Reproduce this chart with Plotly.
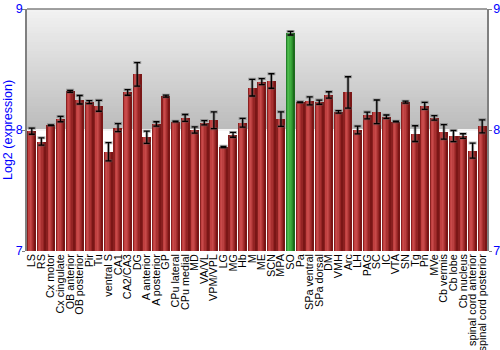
import plotly.graph_objects as go

categories = ["LS", "RS", "Cx motor", "Cx cingulate", "OB anterior", "OB posterior", "Pir", "Tu",
              "ventral S", "CA1", "CA2/CA3", "DG", "A anterior", "A posterior", "GP", "CPu lateral",
              "CPu medial", "MD", "VA/VL", "VPM/VPL", "LG", "MG", "Hb", "M", "ME", "SCN", "MPA", "SO",
              "Pa", "SPa ventral", "SPa dorsal", "DM", "VMH", "Arc", "LH", "PAG", "SC", "IC", "VTA",
              "SN", "Tg", "Pn", "MVe", "Cb vermis", "Cb lobe", "Cb nucleus", "spinal cord anterior",
              "spinal cord posterior"]
values = [7.99, 7.905, 8.04, 8.09, 8.32, 8.25, 8.23, 8.20,
          7.82, 8.02, 8.31, 8.46, 7.94, 8.05, 8.28, 8.07,
          8.10, 8.00, 8.06, 8.08, 7.86, 7.96, 8.06, 8.35, 8.40, 8.405, 8.09, 8.80,
          8.23, 8.24, 8.23, 8.29, 8.15, 8.31, 8.00, 8.12, 8.15, 8.11, 8.07,
          8.23, 7.97, 8.20, 8.10, 7.985, 7.95, 7.95, 7.83, 8.03]
errors = [0.025, 0.03, 0.003, 0.022, 0.008, 0.035, 0.012, 0.045,
          0.075, 0.033, 0.023, 0.097, 0.05, 0.018, 0.008, 0.003,
          0.028, 0.025, 0.018, 0.069, 0.005, 0.02, 0.036, 0.069, 0.025, 0.06, 0.06, 0.015,
          0.003, 0.033, 0.017, 0.026, 0.01, 0.13, 0.032, 0.028, 0.098, 0.014, 0.003,
          0.008, 0.065, 0.029, 0.018, 0.06, 0.046, 0.019, 0.062, 0.054]
highlight = "SO"
y_ticks = [7, 8, 9]

red_strips = ["#8a2020", "#c04040", "#c84a4a", "#bb4040", "#a83030", "#942424", "#7a1616"]
green_strips = ["#23802a", "#44b044", "#4cbc4c", "#40ac40", "#34a034", "#2a8a2a", "#1c6c1c"]

x = list(range(len(categories)))
bar_w = 0.86
n = len(red_strips)
sw = bar_w / n

fig = go.Figure()

# gradient background above y=8
steps = 40
for i in range(steps):
    t = i / (steps - 1)
    c = int(0xbc + (0xf2 - 0xbc) * t)
    fig.add_shape(type="rect", xref="paper", yref="y", x0=0, x1=1,
                  y0=8 + i / steps, y1=min(9, 8 + (i + 1.6) / steps),
                  fillcolor=f"rgb({c},{c},{c})", line_width=0, layer="below")

bases = [7] * len(values)
heights = [v - 7 for v in values]
for k in range(n):
    cols = [green_strips[k] if c == highlight else red_strips[k] for c in categories]
    fig.add_trace(go.Bar(x=x, y=heights, base=bases, width=sw * 1.05,
                         offset=-bar_w / 2 + k * sw, marker=dict(color=cols, line_width=0),
                         showlegend=False, hoverinfo="skip"))

# error bars: soft halo then black
fig.add_trace(go.Scatter(x=x, y=values, mode="markers", marker=dict(size=1, color="rgba(0,0,0,0)"),
                         error_y=dict(type="data", array=errors, color="rgba(90,90,90,0.45)",
                                      thickness=3, width=4), showlegend=False, hoverinfo="skip"))
fig.add_trace(go.Scatter(x=x, y=values, mode="markers", marker=dict(size=1, color="rgba(0,0,0,0)"),
                         error_y=dict(type="data", array=errors, color="black",
                                      thickness=1.3, width=3), showlegend=False, hoverinfo="skip"))

# right axis dummy
fig.add_trace(go.Scatter(x=[0], y=[8], yaxis="y2", mode="markers",
                         marker=dict(color="rgba(0,0,0,0)"), showlegend=False, hoverinfo="skip"))

# top frame line
fig.add_shape(type="line", xref="paper", yref="paper", x0=0, x1=1, y0=1, y1=1,
              line=dict(color="#808080", width=1.5))

fig.update_layout(
    width=500, height=350,
    margin=dict(l=27, r=13, t=9, b=99),
    paper_bgcolor="white", plot_bgcolor="white",
    barmode="overlay", bargap=0,
    font=dict(family="Liberation Sans, Arial, sans-serif", color="black"),
    xaxis=dict(tickmode="array", tickvals=x, ticktext=categories, tickangle=-90,
               range=[-0.5, len(categories) - 0.5], showgrid=False, zeroline=False,
               ticks="", tickfont=dict(size=10.8, color="black"), automargin=False,
               showline=False),
    yaxis=dict(range=[7, 9], tickvals=y_ticks, ticks="outside", ticklen=3, tickcolor="#808080",
               tickfont=dict(size=12.5, color="blue"), showgrid=True, gridcolor="#f4f4f4",
               gridwidth=1.5, zeroline=False, showline=True, linecolor="#808080", linewidth=1.5,
               automargin=False, ticklabelstandoff=-3),
    yaxis2=dict(range=[7, 9], tickvals=y_ticks, overlaying="y", side="right", ticks="outside",
                ticklen=3, tickcolor="#808080", tickfont=dict(size=12.5, color="blue"),
                showgrid=False, zeroline=False, showline=True, linecolor="#808080",
                linewidth=1.5, automargin=False, ticklabelstandoff=-1),
    annotations=[dict(text="Log2 (expression)", xref="paper", yref="paper",
                      x=-19 / 460, y=0.5, xanchor="center", yanchor="middle",
                      textangle=-90, showarrow=False, font=dict(size=12.5, color="blue"))],
)

fig.write_html("out.html")
